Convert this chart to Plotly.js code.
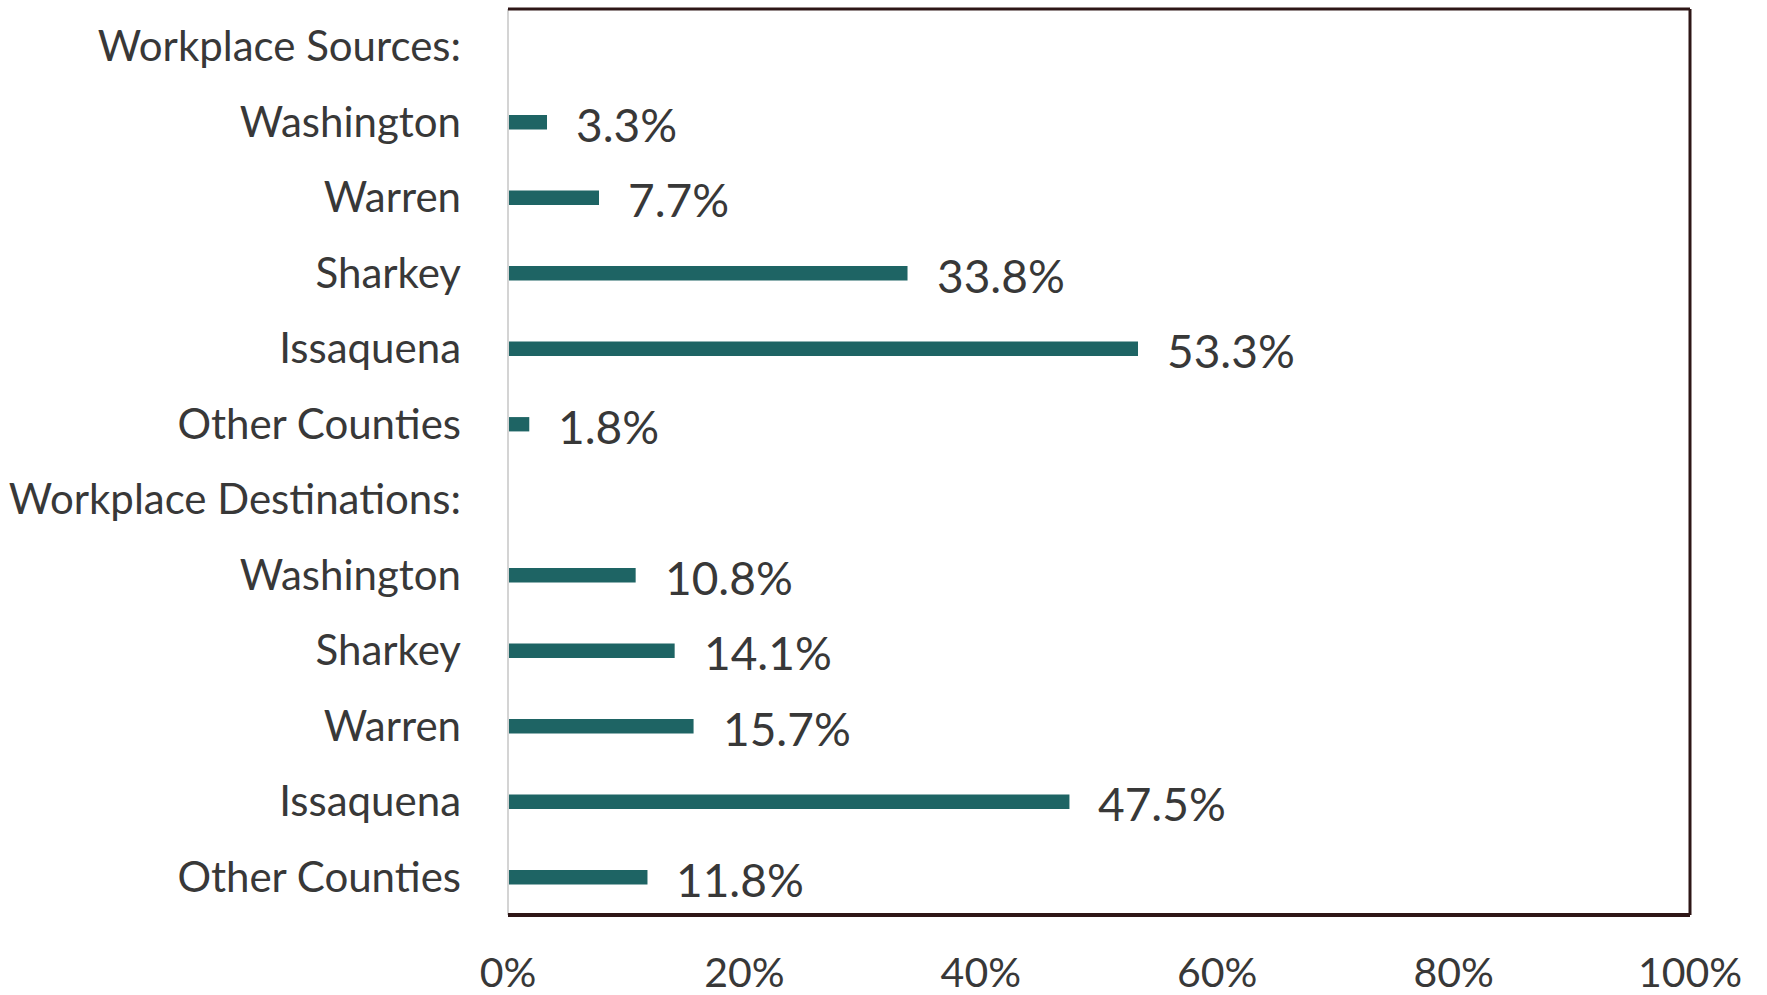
<!DOCTYPE html>
<html>
<head>
<meta charset="utf-8">
<script src="https://cdn.plot.ly/plotly-3.0.1.min.js"></script>
<style>html,body{margin:0;padding:0;background:#fff;}#chart{width:1767px;height:995px;}</style>
</head>
<body>
<div id="chart"></div>
<script>
const categories = ["Workplace Sources:", "Washington", "Warren", "Sharkey", "Issaquena", "Other Counties",
  "Workplace Destinations:", "Washington", "Sharkey", "Warren", "Issaquena", "Other Counties"];
const shares = [null, 3.3, 7.7, 33.8, 53.3, 1.8, null, 10.8, 14.1, 15.7, 47.5, 11.8];
const xTickValues = [0, 20, 40, 60, 80, 100];
const xTickLabels = ["0%", "20%", "40%", "60%", "80%", "100%"];

const positions = categories.map((c, i) => i);
const FONT = "Lato, 'Open Sans', sans-serif";
const TEXT = "#383838";

const trace = {
  type: "bar",
  orientation: "h",
  x: shares,
  y: positions,
  width: 0.19,
  marker: {color: "#1e6464", line: {width: 0}},
  hoverinfo: "skip",
  cliponaxis: false
};

const annotations = shares.map((v, i) => v === null ? null : ({
  x: v, y: i, xref: "x", yref: "y",
  text: v.toFixed(1) + "%",
  showarrow: false, xanchor: "left", yanchor: "middle",
  xshift: 27, yshift: -2,
  font: {family: FONT, size: 46, color: TEXT}
})).filter(a => a !== null);

const layout = {
  width: 1767, height: 995,
  margin: {l: 508, r: 77, t: 9, b: 80, pad: 0},
  paper_bgcolor: "#ffffff",
  plot_bgcolor: "#ffffff",
  showlegend: false,
  font: {family: FONT, color: TEXT},
  xaxis: {
    range: [0, 100],
    tickvals: xTickValues,
    ticktext: xTickLabels,
    showgrid: false, zeroline: false, showline: false,
    ticks: "", ticklabelstandoff: 30,
    tickfont: {family: FONT, size: 41, color: TEXT},
    fixedrange: true
  },
  yaxis: {
    range: [11.5, -0.5],
    tickvals: positions,
    ticktext: categories,
    showgrid: false, zeroline: false, showline: false,
    ticks: "", ticklabelstandoff: 46,
    tickfont: {family: FONT, size: 42, color: TEXT},
    fixedrange: true
  },
  annotations: annotations,
  shapes: [
    {type: "line", xref: "paper", yref: "paper", x0: 0, x1: 0, y0: 0, y1: 1, line: {color: "#d4d4d4", width: 2}},
    {type: "line", xref: "paper", yref: "paper", x0: 0, x1: 1, y0: 1, y1: 1, line: {color: "#2e1616", width: 3}},
    {type: "line", xref: "paper", yref: "paper", x0: 1, x1: 1, y0: 0, y1: 1, line: {color: "#2e1616", width: 3}},
    {type: "line", xref: "paper", yref: "paper", x0: 0, x1: 1, y0: 0, y1: 0, line: {color: "#2e1616", width: 4}}
  ]
};

Plotly.newPlot("chart", [trace], layout, {displayModeBar: false, staticPlot: true});
</script>
</body>
</html>
